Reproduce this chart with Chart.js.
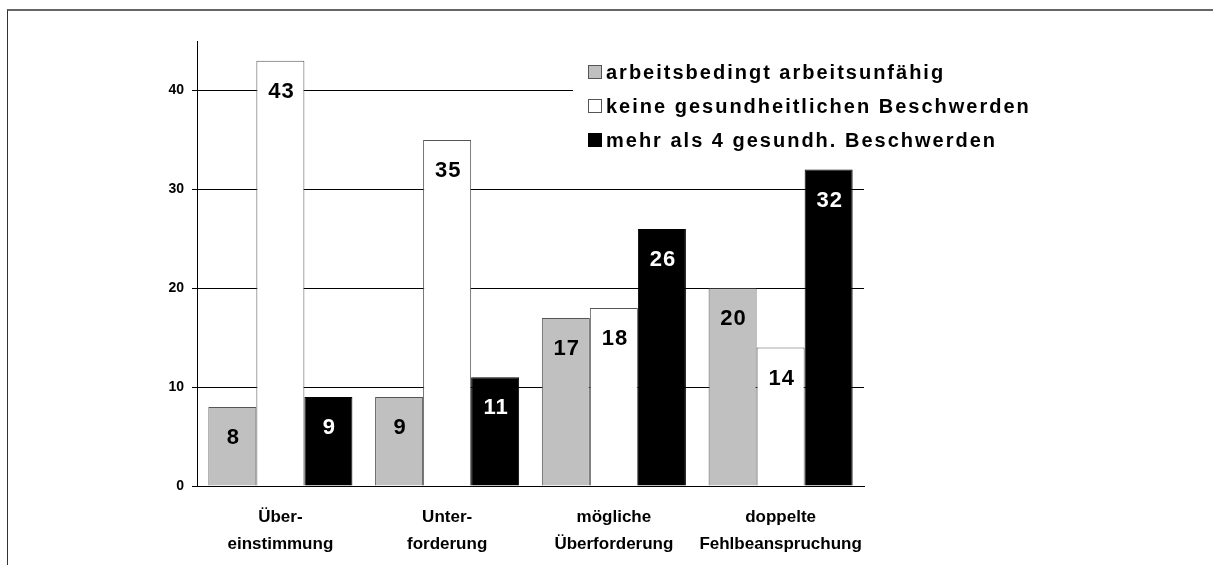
<!DOCTYPE html>
<html>
<head>
<meta charset="utf-8">
<script src="https://cdn.jsdelivr.net/npm/chart.js@4/dist/chart.umd.min.js"></script>
<style>
  html, body { margin: 0; padding: 0; background: #fff; }
  #frame { position: absolute; left: 7px; top: 9px; right: 0; bottom: 0;
           border-top: 2px solid #666; border-left: 1px solid #333; }
  #myChart { position: absolute; left: 0; top: 0; }
</style>
</head>
<body>
<div id="frame"></div>
<canvas id="myChart" width="1213" height="565"></canvas>
<script>
// categories (two-line labels)
const categories = [
  ['Über-', 'einstimmung'],
  ['Unter-', 'forderung'],
  ['mögliche', 'Überforderung'],
  ['doppelte', 'Fehlbeanspruchung']
];
// series names
const seriesNames = [
  'arbeitsbedingt arbeitsunfähig',
  'keine gesundheitlichen Beschwerden',
  'mehr als 4 gesundh. Beschwerden'
];
// values
const arbeitsunfaehig = [8, 9, 17, 20];
const keineBeschwerden = [43, 35, 18, 14];
const mehrAls4 = [9, 11, 26, 32];
// y-axis ticks
const yTicks = [0, 10, 20, 30, 40];

const FONT = '"Liberation Sans", Arial, sans-serif';

// value labels drawn inside the bars, near the top
const barLabels = {
  id: 'barLabels',
  afterDatasetsDraw(chart) {
    const ctx = chart.ctx;
    ctx.save();
    ctx.font = 'bold 22px ' + FONT;
    ctx.letterSpacing = '1px';
    ctx.textAlign = 'center';
    ctx.textBaseline = 'middle';
    chart.data.datasets.forEach((ds, i) => {
      const meta = chart.getDatasetMeta(i);
      meta.data.forEach((bar, j) => {
        ctx.fillStyle = ds.backgroundColor === '#000000' ? '#ffffff' : '#000000';
        ctx.fillText(String(ds.data[j]), bar.x + 1, bar.y + 31);
      });
    });
    ctx.restore();
  }
};

// legend box sitting inside the plot, top right
const boxLegend = {
  id: 'boxLegend',
  afterDraw(chart) {
    const ctx = chart.ctx;
    ctx.save();
    ctx.fillStyle = '#ffffff';
    ctx.fillRect(573, 50, 440, 110);
    ctx.font = 'bold 20px ' + FONT;
    ctx.letterSpacing = '2px';
    ctx.textBaseline = 'middle';
    chart.data.datasets.forEach((ds, i) => {
      const y = 72 + i * 34;
      ctx.fillStyle = ds.backgroundColor;
      ctx.fillRect(588, y - 7, 14, 14);
      ctx.strokeStyle = ds.backgroundColor === '#000000' ? '#000000' : '#555555';
      ctx.lineWidth = 1;
      ctx.strokeRect(588.5, y - 6.5, 13, 13);
      ctx.fillStyle = '#000000';
      ctx.fillText(ds.label, 606, y + 1);
    });
    ctx.restore();
  }
};

const ctx = document.getElementById('myChart');
const myChart = new Chart(ctx, {
  type: 'bar',
  data: {
    labels: categories,
    datasets: [
      { label: seriesNames[0], data: arbeitsunfaehig, backgroundColor: '#c0c0c0', borderColor: '#555555', borderWidth: 1 },
      { label: seriesNames[1], data: keineBeschwerden, backgroundColor: '#ffffff', borderColor: '#555555', borderWidth: 1 },
      { label: seriesNames[2], data: mehrAls4, backgroundColor: '#000000', borderColor: '#000000', borderWidth: 1 }
    ]
  },
  options: {
    responsive: false,
    animation: false,
    categoryPercentage: 0.864,
    barPercentage: 1,
    layout: { padding: { left: 0, right: 349, top: 41, bottom: 0 } },
    plugins: { legend: { display: false }, tooltip: { enabled: false } },
    scales: {
      y: {
        min: 0,
        max: 45,
        afterBuildTicks: s => { s.ticks = yTicks.map(v => ({ value: v })); },
        afterFit: s => { s.width = 197; },
        ticks: { color: '#000', padding: 8, font: { family: FONT, size: 14, weight: 'bold' } },
        grid: { color: '#000', lineWidth: 1, tickLength: 5 },
        border: { color: '#000', width: 1 }
      },
      x: {
        afterFit: s => { s.height = 79; },
        ticks: { color: '#000', padding: 18, maxRotation: 0, autoSkip: false,
                 font: { family: FONT, size: 17, weight: 'bold', lineHeight: 1.6 } },
        grid: { drawOnChartArea: false, drawTicks: false },
        border: { color: '#000', width: 1 }
      }
    }
  },
  plugins: [barLabels, boxLegend]
});
</script>
</body>
</html>
